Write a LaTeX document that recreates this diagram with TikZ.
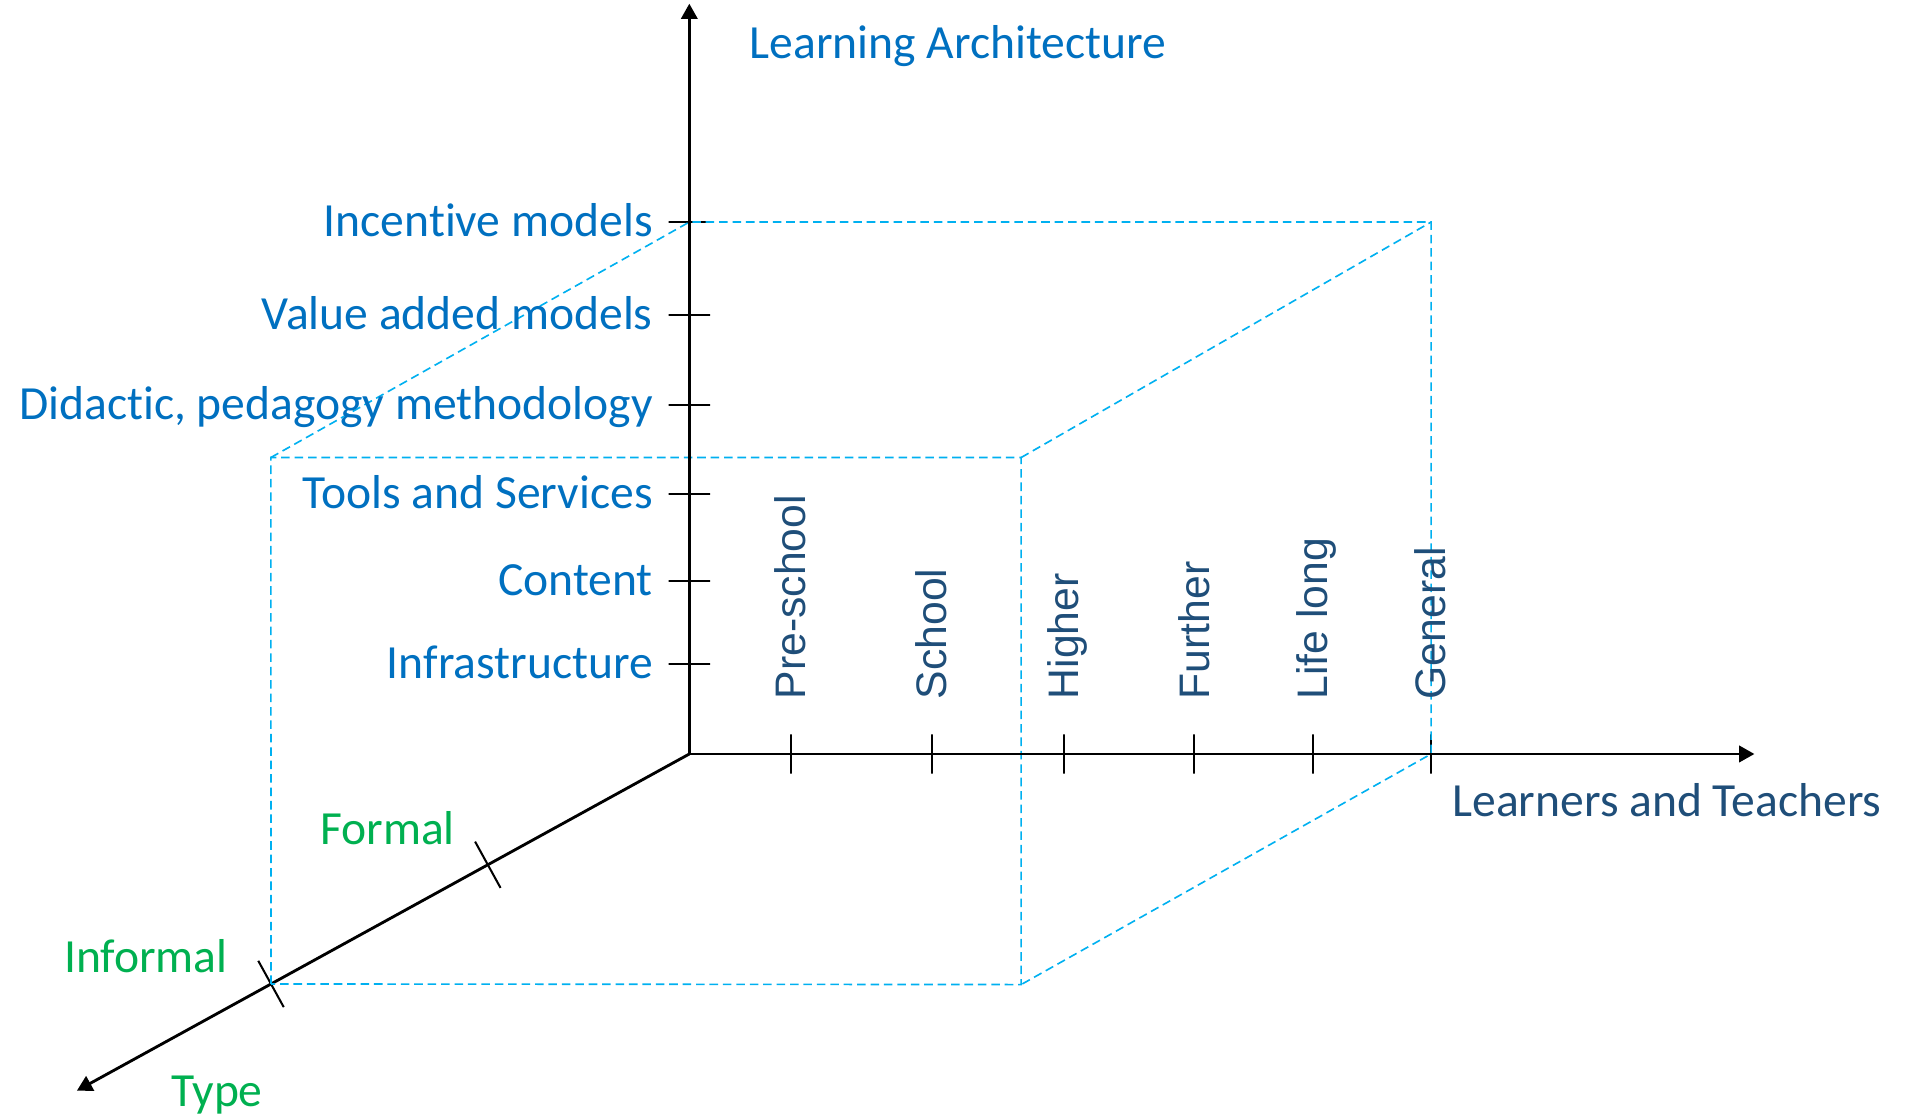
\documentclass[tikz,border=0pt]{standalone}
\usepackage{fontspec}
\setmainfont{Carlito}[Ligatures=CommonOff]
\newfontfamily\levelfont{Liberation Sans}
\usetikzlibrary{arrows.meta,positioning}
\definecolor{archblue}{HTML}{0070C0}
\definecolor{levelblue}{HTML}{1F4E79}
\definecolor{typegreen}{HTML}{00B050}
\definecolor{guidecyan}{HTML}{00B0F0}
\newcommand*\bigtext{\fontsize{23.4pt}{28pt}\selectfont}
\newcommand*\leveltext{\levelfont\fontsize{21pt}{25pt}\selectfont}

\begin{document}
\begin{tikzpicture}[x=0.6pt,y=-0.6pt,>={Triangle[length=7.5pt,width=8pt]},
		semithick, inner sep=0pt]
		\tikzstyle{axis}=[->,black,line width=1.4pt]
		\tikzstyle{guide}=[guidecyan,line width=0.8pt,dash pattern=on 4.2pt off 2.4pt]
		\tikzstyle{ytick}=[draw,line width=1pt,minimum width=20.4pt,minimum height=0pt,outer sep=0pt]
		\tikzstyle{xtick}=[draw,line width=1pt,minimum width=0pt,minimum height=19.2pt,outer sep=0pt]
		\tikzstyle{ztick}=[xtick,minimum height=26pt,sloped]
		\tikzstyle{archlabel}=[text=archblue,font=\bigtext,text height=19.5pt,text depth=5.1pt]
		\tikzstyle{levellabel}=[text=levelblue,font=\leveltext,rotate=90,anchor=west,text height=14.4pt,text depth=0pt]
		\tikzstyle{typelabel}=[text=typegreen,font=\bigtext,anchor=base west]

		\useasboundingbox (0,0) rectangle (1568,916);

		\coordinate (O)    at (565,618);
		\coordinate (top)  at (565,3);
		\coordinate (xend) at (1438,618);
		\coordinate (zend) at (63,894);

		% ticks on the architecture axis
		\node[ytick] (yt1) at (565,544) {};
		\node[ytick] (yt2) at (565,476) {};
		\node[ytick] (yt3) at (565,405) {};
		\node[ytick] (yt4) at (565,332) {};
		\node[ytick] (yt5) at (565,258) {};
		\node[ytick] (yt6) at (565,182) {};

		% ticks on the learners axis
		\node[xtick] (xt1) at (648,618)  {};
		\node[xtick] (xt2) at (764,618)  {};
		\node[xtick] (xt3) at (872,618)  {};
		\node[xtick] (xt4) at (979,618)  {};
		\node[xtick] (xt5) at (1076,618) {};
		\node[xtick] (xt6) at (1173,618) {};

		% the box
		\coordinate (fTL) at (222,375);
		\coordinate (fTR) at (837,375);
		\coordinate (fBR) at (837,807);
		\coordinate (bTR) at (1173,182);

		\draw[axis] (O) -- (zend) node[ztick, pos=0.329] (zt1) {}
		                          node[ztick, pos=0.683] (zt2) {};

		\draw[guide] (zt2.center) -- (fTL) -- (fTR) -- (fBR) -- cycle;
		\draw[guide] (fTL) -- (yt6.center) -- (bTR) -- (xt6.center) -- (fBR);
		\draw[guide] (fTR) -- (bTR);

		\draw[axis] (O) -- (top);
		\draw[axis] (O) -- (xend);

		\node[archlabel, left=7.5pt of yt1] (infra)     {Infrastructure};
		\node[archlabel, left=7.5pt of yt2] (content)   {Content};
		\node[archlabel, left=7.5pt of yt3] (tools)     {Tools and Services};
		\node[archlabel, left=7.5pt of yt4] (didactic)  {Didactic, pedagogy methodology};
		\node[archlabel, left=7.5pt of yt5] (value)     {Value added models};
		\node[archlabel, left=7.5pt of yt6] (incentive) {Incentive models};
		\node[archlabel, anchor=base west] (arch) at (614,48) {Learning Architecture};

		\node[levellabel] (pre)     at ([yshift=17pt]xt1.north) {Pre-school};
		\node[levellabel] (school)  at ([yshift=17pt]xt2.north) {School};
		\node[levellabel] (higher)  at ([yshift=17pt]xt3.north) {Higher};
		\node[levellabel] (further) at ([yshift=17pt]xt4.north) {Further};
		\node[levellabel] (life)    at ([yshift=17pt]xt5.north) {Life long};
		\node[levellabel] (general) at ([yshift=17pt]xt6.north) {General};
		\node[archlabel, text=levelblue, anchor=base west] (learners) at (1190,669) {Learners and Teachers};

		\node[typelabel] (formal)   at (262,692) {Formal};
		\node[typelabel] (informal) at (52,797)  {Informal};
		\node[typelabel] (type)     at (140,907) {Type};
		\end{tikzpicture}
\end{document}
